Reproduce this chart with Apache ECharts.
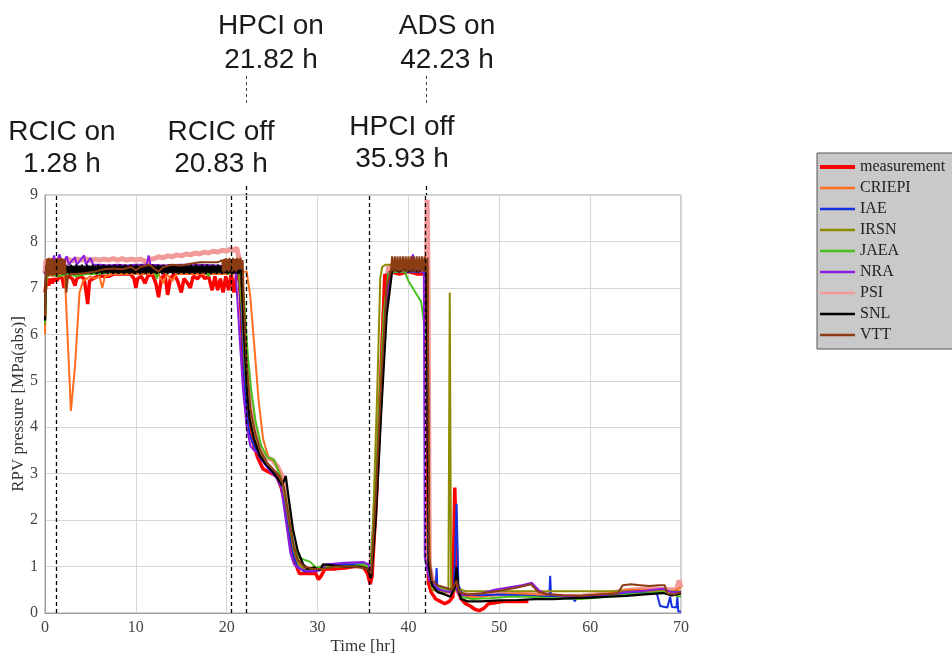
<!DOCTYPE html>
<html>
<head>
<meta charset="utf-8">
<script src="https://cdn.jsdelivr.net/npm/echarts@6/dist/echarts.min.js"></script>
<style>
html,body{margin:0;padding:0;background:#fff;}
#chart{width:952px;height:654px;}
</style>
</head>
<body>
<div id="chart"></div>
<script>
// ---- data (time [hr], RPV pressure [MPa(abs)]) ----
const seriesNames = ['measurement','CRIEPI','IAE','IRSN','JAEA','NRA','PSI','SNL','VTT'];
const xTicks = [0,10,20,30,40,50,60,70];
const yTicks = [0,1,2,3,4,5,6,7,8,9];
const eventLabels = [['RCIC on','1.28 h'],['RCIC off','20.83 h'],['HPCI on','21.82 h'],['HPCI off','35.93 h'],['ADS on','42.23 h']];
const eventLinePos = [1.2, 20.5, 22.1, 35.7, 41.9];

const measurement = [[0,6.9],[0.2,7.2],[0.4,7.05],[0.6,7.2],[0.8,7.1],[1.0,7.2],[1.3,7.15],[1.6,7.25],[1.9,7.2],[2.1,7.0],[2.3,7.2],[2.6,7.25],[3.0,7.2],[3.3,7.05],[3.5,7.2],[3.9,7.25],[4.3,7.2],[4.5,6.95],[4.7,6.65],[4.9,7.15],[5.3,7.2],[5.8,7.25],[6.4,7.25],[7.0,7.25],[7.6,7.3],[8.2,7.3],[8.8,7.3],[9.4,7.3],[9.8,7.2],[10.0,7.0],[10.2,7.2],[10.6,7.25],[11.0,7.1],[11.3,7.25],[11.8,7.3],[12.2,7.1],[12.5,6.8],[12.8,7.2],[13.2,7.3],[13.5,6.85],[13.8,7.2],[14.2,7.3],[14.6,7.15],[15.0,6.9],[15.3,7.2],[15.7,7.1],[16.0,7.0],[16.3,7.25],[16.8,7.2],[17.2,7.3],[17.6,7.2],[18.0,7.25],[18.4,6.95],[18.7,7.25],[19.0,6.95],[19.3,7.2],[19.6,6.9],[19.9,7.25],[20.2,6.95],[20.5,7.3],[20.8,6.9],[21.1,7.3],[21.4,7.2],[21.6,6.4],[21.8,5.4],[22.0,4.9],[22.3,4.2],[22.7,3.8],[23.4,3.35],[24.0,3.1],[24.5,3.05],[25.0,3.0],[25.5,2.95],[26.0,2.7],[26.6,2.2],[27.0,1.6],[27.5,1.1],[28.0,0.85],[29.0,0.85],[29.8,0.85],[30.1,0.72],[30.4,0.8],[30.8,0.95],[32,0.95],[33,0.97],[34,1.0],[35,1.0],[35.5,0.85],[35.8,0.62],[36.0,0.8],[36.5,2.6],[37.0,5.2],[37.4,7.3],[37.7,7.1],[38,7.35],[39,7.3],[40,7.35],[41,7.3],[42.0,7.3],[42.2,0.65],[42.5,0.45],[43.0,0.3],[43.5,0.25],[44.0,0.2],[44.5,0.25],[44.9,0.35],[45.1,2.7],[45.4,0.5],[45.8,0.3],[46.3,0.2],[46.8,0.15],[47.3,0.08],[47.8,0.05],[48.3,0.1],[48.8,0.2],[49.5,0.22],[50.5,0.25],[51.5,0.25],[52.5,0.25],[53.2,0.25]];

const CRIEPI = [[0,6.0],[0.15,7.2],[0.4,7.3],[0.8,7.25],[1.2,7.3],[1.6,7.25],[2.0,7.3],[2.2,7.2],[2.5,5.9],[2.85,4.35],[3.3,5.3],[3.8,6.9],[4.2,7.15],[4.6,7.2],[5.0,7.25],[5.5,7.2],[6.0,7.25],[6.3,7.0],[6.6,7.25],[7.5,7.3],[8.5,7.3],[9.5,7.3],[10.5,7.3],[11.5,7.3],[12.5,7.3],[13.0,7.1],[13.4,7.3],[14.0,7.15],[14.5,7.3],[15.5,7.3],[16.5,7.3],[17.5,7.3],[18.5,7.3],[19.5,7.3],[20.5,7.3],[21.5,7.35],[22.2,7.35],[22.6,6.8],[23.1,5.6],[23.5,4.6],[24.0,3.75],[24.6,3.35],[25.3,3.25],[25.8,3.05],[26.3,2.7],[26.8,2.1],[27.3,1.5],[27.8,1.15],[28.5,1.0],[29.5,0.95],[30.5,0.95],[31.5,1.0],[33,1.0],[34.5,1.0],[35.5,0.95],[35.9,0.85],[36.3,1.8],[36.8,3.8],[37.3,6.0],[37.8,7.3],[38.5,7.35],[39.5,7.35],[40.5,7.35],[41.5,7.35],[42.1,7.3],[42.3,1.0],[42.6,0.6],[43.2,0.5],[44,0.45],[44.8,0.45],[45.3,0.7],[45.7,0.4],[46.5,0.35],[48,0.35],[50,0.4],[52,0.42],[54,0.4],[56,0.38],[58,0.35],[60,0.38],[62,0.42],[64,0.5],[66,0.5],[68,0.5],[69,0.45],[70,0.55]];

const IAE = [[0,7.3],[0.3,7.4],[1,7.4],[3,7.42],[5,7.4],[7,7.42],[9,7.4],[11,7.42],[13,7.4],[15,7.42],[17,7.4],[19,7.4],[20.5,7.35],[21.3,7.3],[21.6,6.5],[21.9,5.2],[22.2,4.3],[22.5,3.85],[23,3.6],[23.8,3.3],[24.5,3.15],[25.3,3.0],[26.0,2.75],[26.5,2.3],[27.0,1.6],[27.4,1.2],[27.8,1.0],[28.5,0.9],[29.5,0.9],[30.5,0.98],[32,1.05],[34,1.05],[35.3,1.05],[35.8,0.85],[36.3,2.0],[36.8,4.0],[37.3,5.8],[37.8,7.3],[38.5,7.35],[40,7.35],[41.5,7.35],[42.0,7.3],[42.2,1.0],[42.6,0.6],[43.0,0.55],[43.1,0.97],[43.2,0.5],[44,0.45],[45,0.5],[45.3,2.35],[45.5,0.6],[46,0.4],[48,0.38],[50,0.4],[52,0.38],[54,0.36],[55.5,0.35],[55.6,0.8],[55.7,0.35],[57,0.33],[58.2,0.3],[58.3,0.25],[58.5,0.32],[60,0.35],[62,0.38],[64,0.42],[66,0.45],[67.3,0.45],[67.5,0.3],[67.7,0.15],[68.5,0.12],[68.8,0.35],[69,0.13],[69.5,0.12],[69.6,0.35],[69.7,0.03],[70,0.03]];

const IRSN = [[0,6.2],[0.15,7.3],[0.5,7.35],[2,7.3],[4,7.32],[6,7.35],[8,7.35],[10,7.35],[12,7.35],[14,7.35],[16,7.35],[18,7.38],[20,7.38],[21.3,7.35],[21.7,6.5],[22.0,5.3],[22.4,4.4],[22.8,3.9],[23.5,3.5],[24.3,3.2],[25.0,3.05],[25.8,2.85],[26.4,2.5],[26.9,1.9],[27.4,1.35],[27.9,1.05],[28.6,0.95],[29.5,0.95],[30.5,0.95],[32,1.0],[34,1.0],[35.5,0.98],[35.9,0.9],[36.2,2.5],[36.6,5.0],[36.9,7.2],[37.1,7.45],[37.5,7.5],[38.5,7.5],[39.5,7.5],[40.5,7.5],[41.5,7.5],[42.1,7.45],[42.3,0.8],[42.6,0.5],[43.5,0.45],[44.4,0.45],[44.55,6.9],[44.7,0.45],[45.3,0.5],[45.8,0.5],[46.3,0.47],[50,0.47],[55,0.47],[60,0.47],[65,0.47],[70,0.47]];

const JAEA = [[0,6.25],[0.15,7.2],[0.5,7.3],[1.5,7.25],[2.5,7.3],[3.5,7.25],[4.5,7.3],[6,7.3],[7.5,7.35],[9,7.35],[10.5,7.38],[12,7.38],[12.3,7.2],[12.6,7.38],[14,7.4],[16,7.4],[17.5,7.42],[18,7.25],[18.3,7.4],[19.5,7.42],[20.2,7.3],[20.6,7.42],[21.5,7.4],[21.9,6.8],[22.3,5.6],[22.7,4.8],[23.2,4.1],[23.8,3.6],[24.5,3.35],[25.2,3.3],[25.8,3.0],[26.4,2.6],[26.9,2.0],[27.4,1.45],[27.9,1.2],[28.5,1.15],[29.2,1.1],[29.8,0.98],[30.5,1.0],[32,1.0],[34,1.02],[35.3,1.05],[35.8,0.9],[36.3,2.2],[36.8,4.5],[37.3,6.5],[37.8,7.3],[38.5,7.35],[39.6,7.35],[40.0,7.15],[41.4,6.7],[41.9,6.0],[42.1,5.8],[42.25,1.0],[42.6,0.6],[43.5,0.55],[44.5,0.5],[45.3,0.55],[45.7,0.35],[47,0.3],[49,0.32],[51,0.35],[53,0.35],[55,0.33],[57,0.32],[59,0.3],[60,0.32],[62,0.35],[64,0.4],[66,0.42],[68,0.45],[69,0.4],[70,0.35]];

const NRA = [[0,7.3],[0.2,7.45],[0.8,7.5],[1.0,7.7],[1.2,7.5],[1.6,7.72],[1.9,7.5],[2.4,7.68],[2.6,7.5],[3.3,7.66],[3.5,7.5],[4.3,7.7],[4.5,7.5],[5.0,7.65],[5.3,7.5],[6,7.5],[7,7.48],[8,7.5],[9,7.48],[10,7.5],[11.2,7.5],[11.4,7.7],[11.6,7.5],[13,7.48],[15,7.5],[17,7.5],[19,7.48],[20.5,7.45],[21.0,7.3],[21.4,6.0],[21.8,4.8],[22.2,4.0],[22.6,3.6],[23.0,3.5],[23.5,3.45],[24.2,3.2],[24.8,3.05],[25.5,2.9],[26.0,2.7],[26.5,2.0],[27.0,1.3],[27.4,1.05],[28,0.95],[29,0.9],[30,0.9],[31,1.05],[33,1.08],[35,1.1],[35.6,1.05],[35.9,0.85],[36.4,2.2],[37.0,4.5],[37.5,6.6],[38.0,7.35],[38.6,7.4],[39.0,7.35],[39.5,7.4],[40,7.4],[40.5,7.72],[40.7,7.4],[41.5,7.35],[41.7,7.3],[41.8,1.2],[42.3,0.7],[42.8,0.6],[43.5,0.5],[44.5,0.45],[45.2,0.55],[45.6,0.4],[46.5,0.38],[48,0.42],[49.5,0.5],[51,0.55],[52.5,0.6],[53.6,0.65],[54.3,0.5],[55,0.42],[56.5,0.38],[58,0.35],[60,0.38],[62,0.4],[64,0.45],[66,0.48],[68,0.52],[69,0.45],[70,0.45]];

const PSI = [[0,7.3],[0.1,7.58],[0.5,7.6],[1,7.58],[1.5,7.62],[2,7.58],[2.5,7.62],[3,7.58],[3.5,7.62],[4,7.6],[4.5,7.63],[5,7.58],[5.5,7.62],[6,7.6],[6.5,7.62],[7,7.6],[7.5,7.63],[8,7.6],[8.5,7.63],[9,7.6],[9.5,7.62],[10,7.6],[10.5,7.62],[11,7.58],[11.3,7.5],[11.5,7.62],[12,7.63],[12.5,7.67],[13,7.65],[13.5,7.69],[14,7.67],[14.5,7.71],[15,7.69],[15.5,7.73],[16,7.71],[16.5,7.75],[17,7.73],[17.5,7.77],[18,7.75],[18.5,7.79],[19,7.77],[19.5,7.81],[20,7.79],[20.4,7.84],[20.8,7.8],[21.1,7.87],[21.4,7.6],[21.7,6.8],[22.0,5.8],[22.4,4.8],[22.9,4.1],[23.5,3.6],[24.2,3.35],[25.0,3.3],[25.6,3.15],[26.1,2.95],[26.6,2.3],[27.1,1.6],[27.6,1.2],[28.2,1.0],[29,0.95],[30,0.95],[31,1.0],[33,1.02],[35,1.02],[35.8,0.9],[36.3,2.0],[36.8,4.2],[37.3,6.4],[37.8,7.45],[38.5,7.5],[39.5,7.5],[40.5,7.5],[41.5,7.5],[42.0,7.45],[42.05,8.9],[42.15,7.5],[42.3,1.0],[42.8,0.6],[43.5,0.5],[44.5,0.45],[45.3,0.5],[45.7,0.4],[47,0.38],[49,0.4],[51,0.42],[53,0.4],[55,0.38],[57,0.36],[59,0.36],[61,0.4],[63,0.45],[65,0.5],[67,0.52],[68.5,0.5],[69.5,0.5],[69.8,0.7],[70,0.55]];

const SNL = [[0,6.3],[0.1,7.3],[0.15,7.48],[0.3,7.3],[0.45,7.5],[0.6,7.32],[0.75,7.48],[0.9,7.3],[1.05,7.5],[1.2,7.32],[1.35,7.48],[1.5,7.3],[1.65,7.5],[1.8,7.32],[1.95,7.48],[2.1,7.3],[2.25,7.5],[2.4,7.32],[2.55,7.48],[2.7,7.3],[2.85,7.5],[3.0,7.32],[3.15,7.48],[3.3,7.3],[3.45,7.5],[3.6,7.32],[3.75,7.48],[3.9,7.3],[4.05,7.5],[4.2,7.32],[4.35,7.48],[4.5,7.3],[4.65,7.5],[4.8,7.32],[4.95,7.48],[5.1,7.3],[5.25,7.5],[5.4,7.32],[5.55,7.48],[5.7,7.3],[5.85,7.5],[6.0,7.32],[6.15,7.48],[6.3,7.3],[6.45,7.5],[6.6,7.32],[6.75,7.48],[6.9,7.3],[7.05,7.5],[7.2,7.32],[7.35,7.48],[7.5,7.3],[7.65,7.5],[7.8,7.32],[7.95,7.48],[8.1,7.3],[8.25,7.5],[8.4,7.32],[8.55,7.48],[8.7,7.3],[8.85,7.5],[9.0,7.32],[9.15,7.48],[9.3,7.3],[9.45,7.5],[9.6,7.32],[9.75,7.48],[9.9,7.3],[10.05,7.5],[10.2,7.32],[10.35,7.48],[10.5,7.3],[10.65,7.5],[10.8,7.32],[10.95,7.48],[11.1,7.3],[11.25,7.5],[11.4,7.32],[11.55,7.48],[11.7,7.3],[11.85,7.5],[12.0,7.32],[12.15,7.48],[12.3,7.3],[12.45,7.5],[12.6,7.32],[12.75,7.48],[12.9,7.3],[13.05,7.5],[13.2,7.32],[13.35,7.48],[13.5,7.3],[13.65,7.5],[13.8,7.32],[13.95,7.48],[14.1,7.3],[14.25,7.5],[14.4,7.32],[14.55,7.48],[14.7,7.3],[14.85,7.5],[15.0,7.32],[15.15,7.48],[15.3,7.3],[15.45,7.5],[15.6,7.32],[15.75,7.48],[15.9,7.3],[16.05,7.5],[16.2,7.32],[16.35,7.48],[16.5,7.3],[16.65,7.5],[16.8,7.32],[16.95,7.48],[17.1,7.3],[17.25,7.5],[17.4,7.32],[17.55,7.48],[17.7,7.3],[17.85,7.5],[18.0,7.32],[18.15,7.48],[18.3,7.3],[18.45,7.5],[18.6,7.32],[18.75,7.48],[18.9,7.3],[19.05,7.5],[19.2,7.32],[19.35,7.48],[19.5,7.3],[19.65,7.5],[19.8,7.32],[19.95,7.48],[20.1,7.3],[20.25,7.5],[20.4,7.32],[20.55,7.48],[20.7,7.3],[20.85,7.5],[21.0,7.32],[21.15,7.48],[21.3,7.3],[21.45,7.45],[21.6,7.35],[21.9,6.0],[22.2,4.9],[22.5,4.2],[23.0,3.75],[23.6,3.4],[24.3,3.2],[25.0,3.05],[25.6,2.9],[26.1,2.75],[26.5,2.95],[26.8,2.5],[27.3,1.8],[27.8,1.35],[28.4,1.05],[28.9,0.95],[29.6,0.98],[30.3,0.92],[30.6,1.05],[31.5,1.03],[33,1.0],[34.5,1.0],[35.5,0.95],[35.9,0.75],[36.4,2.0],[37.0,4.3],[37.6,6.4],[38.2,7.35],[38.5,7.4],[39,7.35],[39.5,7.42],[40,7.35],[40.5,7.4],[41,7.35],[41.5,7.42],[42.0,7.35],[42.25,1.0],[42.6,0.6],[43.2,0.45],[44,0.4],[44.6,0.35],[45.1,0.55],[45.3,1.0],[45.5,0.5],[45.8,0.3],[46.5,0.25],[48,0.25],[50,0.27],[52,0.28],[54,0.3],[56,0.3],[58,0.32],[60,0.33],[62,0.35],[64,0.37],[66,0.4],[68,0.43],[69,0.38],[70,0.42]];

const VTT = [[0,6.4],[0.1,7.3],[0.2,7.62],[0.3,7.25],[0.4,7.64],[0.5,7.25],[0.6,7.62],[0.7,7.28],[0.8,7.64],[0.9,7.25],[1.0,7.6],[1.1,7.28],[1.2,7.62],[1.3,7.25],[1.4,7.64],[1.5,7.28],[1.6,7.62],[1.7,7.3],[1.8,7.64],[1.9,7.28],[2.0,7.62],[2.1,7.3],[2.2,7.6],[2.35,6.9],[2.5,7.2],[2.8,7.3],[3.5,7.3],[4.5,7.32],[5.5,7.35],[6.5,7.4],[7.5,7.42],[8.5,7.4],[9.5,7.45],[10,7.38],[10.5,7.45],[11.5,7.5],[12,7.42],[12.5,7.35],[13,7.45],[14,7.5],[15,7.48],[16,7.52],[17,7.55],[18,7.55],[19,7.55],[19.5,7.6],[19.6,7.35],[19.7,7.62],[19.8,7.35],[19.9,7.64],[20.0,7.38],[20.1,7.62],[20.2,7.35],[20.3,7.65],[20.4,7.38],[20.5,7.62],[20.6,7.35],[20.7,7.65],[20.8,7.38],[20.9,7.62],[21.0,7.35],[21.1,7.65],[21.2,7.38],[21.3,7.62],[21.4,7.4],[21.5,7.65],[21.6,7.4],[21.75,7.6],[21.9,6.6],[22.2,5.4],[22.6,4.4],[23.1,3.9],[23.7,3.5],[24.4,3.25],[25.1,3.1],[25.8,2.95],[26.3,2.7],[26.8,2.1],[27.3,1.5],[27.8,1.15],[28.5,1.0],[29.5,0.95],[30.5,0.95],[32,1.0],[34,1.0],[35.5,0.95],[35.9,0.85],[36.4,2.5],[37.0,5.0],[37.6,7.0],[38.1,7.4],[38.2,7.68],[38.35,7.35],[38.5,7.68],[38.65,7.35],[38.8,7.68],[38.95,7.35],[39.1,7.68],[39.25,7.35],[39.4,7.68],[39.55,7.35],[39.7,7.68],[39.85,7.35],[40.0,7.68],[40.15,7.35],[40.3,7.68],[40.45,7.35],[40.6,7.68],[40.75,7.35],[40.9,7.68],[41.05,7.35],[41.2,7.68],[41.35,7.35],[41.5,7.68],[41.65,7.35],[41.8,7.68],[41.95,7.35],[42.1,7.65],[42.3,1.2],[42.6,0.7],[43.2,0.6],[44,0.55],[44.8,0.5],[45.3,0.7],[45.6,0.45],[46.5,0.4],[48,0.42],[50,0.48],[52,0.55],[53.5,0.62],[54.3,0.45],[55.5,0.4],[57,0.38],[59,0.37],[61,0.4],[63,0.42],[63.6,0.6],[64.5,0.62],[65.5,0.6],[66.5,0.58],[67.5,0.6],[68.2,0.6],[68.5,0.42],[69.3,0.4],[70,0.45]];

// ---- chart ----
const colors = {
  measurement:'#ff0000', CRIEPI:'#ff6d1f', IAE:'#1530e0', IRSN:'#8f8b00', JAEA:'#49c01f',
  NRA:'#8a1ce0', PSI:'#f29a9a', SNL:'#000000', VTT:'#8b3c12'
};
const widths = {measurement:3.5, CRIEPI:2, IAE:2, IRSN:2, JAEA:2, NRA:2, PSI:5, SNL:2.2, VTT:2};
const legendWidths = {measurement:4, CRIEPI:2.5, IAE:2.5, IRSN:2.5, JAEA:2.5, NRA:2.5, PSI:2.5, SNL:2.5, VTT:2.5};
const dataMap = {measurement, CRIEPI, IAE, IRSN, JAEA, NRA, PSI, SNL, VTT};
const drawOrder = ['PSI','measurement','CRIEPI','IAE','IRSN','JAEA','NRA','SNL','VTT'];

const serif = "'Liberation Serif','DejaVu Serif',serif";
const sans = "'Liberation Sans',Arial,sans-serif";

const series = drawOrder.map(name => ({
  name, type:'line', data:dataMap[name], showSymbol:false, symbol:'none',
  color: colors[name],
  lineStyle:{color:colors[name], width:widths[name]},
  silent:true, animation:false
}));
series.push({
  name:'events', type:'line', data:[], silent:true, animation:false,
  markLine:{
    silent:true, symbol:['none','none'], label:{show:false},
    lineStyle:{color:'#000', type:[4,3], width:1.3},
    data: eventLinePos.map(v => ({xAxis:v}))
  }
});

const chart = echarts.init(document.getElementById('chart'), null, {renderer:'canvas'});
const option = {
  backgroundColor:'#ffffff',
  animation:false,
  grid:{left:45, right:271, top:195, bottom:41, containLabel:false, outerBoundsMode:'none',
        show:true, borderColor:'#a0a0a0', borderWidth:1, backgroundColor:'transparent'},
  legend:{
    orient:'vertical', left:817, top:153,
    data: seriesNames.map(n => ({name:n, itemStyle:{opacity:0}, lineStyle:{width:legendWidths[n], color:colors[n]}})),
    itemStyle:{opacity:0},
    backgroundColor:'#c9c9c9', borderColor:'#555', borderWidth:1,
    padding:[6,30,6,1], itemWidth:35, itemHeight:14, itemGap:5,
    selectedMode:false,
    textStyle:{fontFamily:serif, fontSize:16, color:'#222', lineHeight:16}
  },
  xAxis:{
    type:'value', min:xTicks[0], max:xTicks[xTicks.length-1], interval:10,
    name:'Time [hr]', nameLocation:'middle', nameGap:25, nameMoveOverlap:false,
    nameTextStyle:{fontFamily:serif, fontSize:17, color:'#333'},
    axisLine:{show:true, lineStyle:{color:'#a0a0a0'}},
    axisTick:{show:false},
    axisLabel:{fontFamily:serif, fontSize:16, color:'#444', margin:7},
    splitLine:{show:true, lineStyle:{color:'#d6d6d6', width:1}}
  },
  yAxis:{
    type:'value', min:yTicks[0], max:yTicks[yTicks.length-1], interval:1,
    name:'RPV pressure [MPa(abs)]', nameLocation:'middle', nameGap:18, nameRotate:90, nameMoveOverlap:false,
    nameTextStyle:{fontFamily:serif, fontSize:17, color:'#333'},
    axisLine:{show:true, lineStyle:{color:'#a0a0a0'}},
    axisTick:{show:false},
    axisLabel:{fontFamily:serif, fontSize:16, color:'#444', margin:7},
    splitLine:{show:true, lineStyle:{color:'#d6d6d6', width:1}}
  },
  series
};
chart.setOption(option);

// annotations above the plot
const px = t => chart.convertToPixel({xAxisIndex:0}, t);
const textPos = [[62,132.5,164],[221,132.5,164],[271,26,60.5],[402,127.5,159],[447,26,60.5]];
const graphics = [];
eventLabels.forEach((lab, i) => {
  const [cx, y1, y2] = textPos[i];
  graphics.push({type:'text', x:cx, y:y1, silent:true,
    style:{text:lab[0], fill:'#1a1a1a', font:'28px ' + sans, textAlign:'center', textVerticalAlign:'middle'}});
  graphics.push({type:'text', x:cx, y:y2, silent:true,
    style:{text:lab[1], fill:'#1a1a1a', font:'28px ' + sans, textAlign:'center', textVerticalAlign:'middle'}});
});
[2,4].forEach(i => {
  const x = Math.round(px(eventLinePos[i])) + 0.5;
  graphics.push({type:'line', silent:true, shape:{x1:x, y1:76, x2:x, y2:106},
    style:{stroke:'#444', lineWidth:1, lineDash:[3,3]}});
  graphics.push({type:'line', silent:true, shape:{x1:x, y1:186, x2:x, y2:195},
    style:{stroke:'#000', lineWidth:1.3, lineDash:[4,3]}});
});
chart.setOption({graphic:graphics});
</script>
</body>
</html>
